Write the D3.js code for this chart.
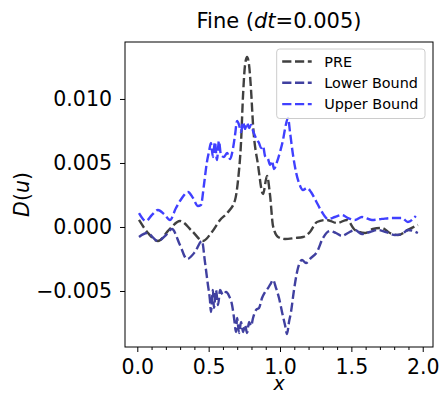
<!DOCTYPE html>
<html><head><meta charset="utf-8">
<script src="https://cdn.jsdelivr.net/npm/d3@7"></script>
<style>
html,body{margin:0;padding:0;background:#fff;}
text{font-family:"DejaVu Sans",sans-serif;}
</style></head>
<body><svg id="chart" width="442" height="395"></svg>
<script>
// ---- data (x, D(u)) ----
const preData = [
[0.012,0.00055],[0.075,-0.00047],[0.145,-0.00109],[0.222,-0.00023],[0.299,0.00047],[0.383,-0.00031],
[0.460,-0.00109],[0.523,-0.00039],[0.580,0.00055],[0.636,0.00117],[0.685,0.00211],[0.706,0.00367],
[0.727,0.00664],[0.741,0.01031],[0.755,0.01266],[0.769,0.01328],[0.783,0.01266],[0.797,0.01070],
[0.811,0.00797],[0.846,0.00484],[0.881,0.00258],[0.909,0.00398],[0.930,0.00250],[0.951,0.00008],
[0.986,-0.00078],[1.035,-0.00094],[1.105,-0.00086],[1.161,-0.00078],[1.210,-0.00039],[1.259,0.00039],
[1.329,0.00055],[1.399,0.00031],[1.469,0.00055],[1.525,-0.00023],[1.595,-0.00047],[1.651,-0.00016],
[1.714,-0.00008],[1.770,-0.00047],[1.826,-0.00063],[1.896,-0.00023],[1.966,0.00016]
];
const lowerData = [
[0.012,-0.00078],[0.068,-0.00047],[0.145,-0.00109],[0.201,-0.00063],[0.243,-0.00016],[0.299,-0.00141],
[0.348,-0.00250],[0.404,-0.00195],[0.453,-0.00109],[0.474,-0.00273],[0.495,-0.00453],[0.509,-0.00570],
[0.516,-0.00664],[0.530,-0.00492],[0.537,-0.00633],[0.551,-0.00492],[0.566,-0.00609],[0.580,-0.00492],
[0.600,-0.00531],[0.622,-0.00508],[0.643,-0.00539],[0.664,-0.00609],[0.678,-0.00711],[0.692,-0.00820],
[0.699,-0.00711],[0.713,-0.00828],[0.727,-0.00742],[0.741,-0.00820],[0.755,-0.00766],[0.769,-0.00828],
[0.783,-0.00742],[0.797,-0.00773],[0.811,-0.00711],[0.832,-0.00648],[0.853,-0.00633],[0.874,-0.00555],
[0.895,-0.00508],[0.916,-0.00477],[0.937,-0.00438],[0.951,-0.00414],[0.972,-0.00477],[0.993,-0.00555],
[1.014,-0.00664],[1.035,-0.00766],[1.049,-0.00836],[1.063,-0.00742],[1.077,-0.00664],[1.098,-0.00492],
[1.126,-0.00320],[1.154,-0.00258],[1.182,-0.00281],[1.217,-0.00242],[1.259,-0.00195],[1.301,-0.00086],
[1.350,-0.00031],[1.392,-0.00047],[1.434,-0.00070],[1.476,-0.00047],[1.525,-0.00023],[1.574,-0.00055],
[1.630,-0.00039],[1.686,-0.00023],[1.742,-0.00039],[1.805,-0.00063],[1.854,-0.00055],[1.896,-0.00023],
[1.966,-0.00047]
];
const upperData = [
[0.012,0.00109],[0.061,0.00047],[0.103,0.00094],[0.145,0.00133],[0.187,0.00102],[0.229,0.00055],
[0.271,0.00148],[0.313,0.00227],[0.355,0.00273],[0.390,0.00227],[0.425,0.00164],[0.446,0.00172],
[0.467,0.00328],[0.488,0.00508],[0.502,0.00586],[0.516,0.00656],[0.530,0.00547],[0.544,0.00664],
[0.558,0.00523],[0.572,0.00672],[0.586,0.00563],[0.607,0.00547],[0.629,0.00578],[0.650,0.00531],
[0.671,0.00617],[0.685,0.00719],[0.699,0.00828],[0.713,0.00797],[0.727,0.00742],[0.741,0.00820],
[0.755,0.00766],[0.769,0.00813],[0.783,0.00773],[0.797,0.00797],[0.811,0.00750],[0.825,0.00711],
[0.839,0.00680],[0.853,0.00656],[0.867,0.00617],[0.881,0.00633],[0.895,0.00555],[0.916,0.00531],
[0.930,0.00484],[0.944,0.00516],[0.958,0.00453],[0.979,0.00508],[1.000,0.00586],[1.021,0.00680],
[1.035,0.00766],[1.056,0.00852],[1.070,0.00742],[1.091,0.00563],[1.112,0.00430],[1.133,0.00344],
[1.161,0.00289],[1.189,0.00305],[1.217,0.00273],[1.252,0.00203],[1.294,0.00117],[1.336,0.00063],
[1.385,0.00078],[1.434,0.00094],[1.476,0.00070],[1.525,0.00055],[1.574,0.00078],[1.644,0.00055],
[1.714,0.00063],[1.784,0.00070],[1.854,0.00070],[1.896,0.00039],[1.952,0.00086]
];
const seriesNames = ["PRE", "Lower Bound", "Upper Bound"];
const seriesColors = ["#404040", "#4040a0", "#4040ff"];
const xTicks = [0.0, 0.5, 1.0, 1.5, 2.0];
const xMinorTicks = [0.1,0.2,0.3,0.4,0.6,0.7,0.8,0.9,1.1,1.2,1.3,1.4,1.6,1.7,1.8,1.9];
const yTicks = [-0.005, 0.0, 0.005, 0.010];
const xDomain = [-0.0862, 2.072];
const yDomain = [-0.009375, 0.01445];

// ---- layout ----
const W = 442, H = 395;
const m = {left: 125, right: 9, top: 42, bottom: 48};
const pw = W - m.left - m.right, ph = H - m.top - m.bottom;
const svg = d3.select("#chart");
const g = svg.append("g").attr("transform", `translate(${m.left},${m.top})`);
const x = d3.scaleLinear().domain(xDomain).range([0, pw]);
const y = d3.scaleLinear().domain(yDomain).range([ph, 0]);

svg.append("defs").append("clipPath").attr("id","clip")
  .append("rect").attr("width", pw).attr("height", ph);

// axes
const xAxis = d3.axisBottom(x).tickValues(xTicks).tickFormat(d3.format(".1f")).tickSize(5).tickPadding(7);
const xMinor = d3.axisBottom(x).tickValues(xMinorTicks).tickFormat("").tickSize(3);
const yAxis = d3.axisLeft(y).tickValues(yTicks).tickFormat(d3.format(".3f")).tickSize(5).tickPadding(8);

const gx = g.append("g").attr("transform", `translate(0,${ph})`).call(xAxis);
g.append("g").attr("transform", `translate(0,${ph})`).call(xMinor).select(".domain").remove();
const gy = g.append("g").call(yAxis);
[gx, gy].forEach(a => {
  a.select(".domain").remove();
  a.selectAll("text").attr("font-size", 20.5).attr("fill", "#000").style("font-family", "DejaVu Sans");
});
g.selectAll(".tick line").attr("stroke", "#000").attr("stroke-width", 1);

// lines
const line = d3.line().x(d => x(d[0])).y(d => y(d[1])).curve(d3.curveMonotoneX);
const allData = [preData, lowerData, upperData];
const lg = g.append("g").attr("clip-path", "url(#clip)");
allData.forEach((data, i) => {
  lg.append("path").datum(data)
    .attr("d", line)
    .attr("fill", "none")
    .attr("stroke", seriesColors[i])
    .attr("stroke-width", 2.4)
    .attr("stroke-dasharray", "9.2,3.6");
});

// frame
g.append("rect").attr("width", pw).attr("height", ph)
  .attr("fill", "none").attr("stroke", "#000").attr("stroke-width", 1);

// legend
const leg = g.append("g").attr("transform", `translate(${276.7 - m.left},${49 - m.top})`);
leg.append("rect").attr("width", 148.3).attr("height", 69.5).attr("rx", 3)
  .attr("fill", "#fff").attr("fill-opacity", 0.8).attr("stroke", "#ccc").attr("stroke-width", 1);
seriesNames.forEach((name, i) => {
  const yy = 12.5 + i * 21.3;
  leg.append("line").attr("x1", 5.5).attr("x2", 35).attr("y1", yy).attr("y2", yy)
    .attr("stroke", seriesColors[i]).attr("stroke-width", 2.4).attr("stroke-dasharray", "9.2,3.6");
  leg.append("text").attr("x", 47.5).attr("y", yy).attr("dy", "0.35em")
    .attr("font-size", 14.4).attr("fill", "#000").text(name);
});

// title
const title = svg.append("text").attr("x", m.left + pw / 2).attr("y", 28)
  .attr("text-anchor", "middle").attr("font-size", 21).attr("fill", "#000");
title.append("tspan").text("Fine (");
title.append("tspan").attr("font-style", "italic").text("dt");
title.append("tspan").text("=0.005)");

// x label
svg.append("text").attr("x", m.left + pw / 2).attr("y", 390)
  .attr("text-anchor", "middle").attr("font-size", 19).attr("font-style", "italic").attr("fill", "#000").text("x");

// y label
const yl = svg.append("text").attr("transform", `translate(29,${m.top + ph / 2}) rotate(-90)`)
  .attr("text-anchor", "middle").attr("font-size", 20.5).attr("fill", "#000");
yl.append("tspan").attr("font-style", "italic").text("D");
yl.append("tspan").text("(");
yl.append("tspan").attr("font-style", "italic").text("u");
yl.append("tspan").text(")");
</script></body></html>
